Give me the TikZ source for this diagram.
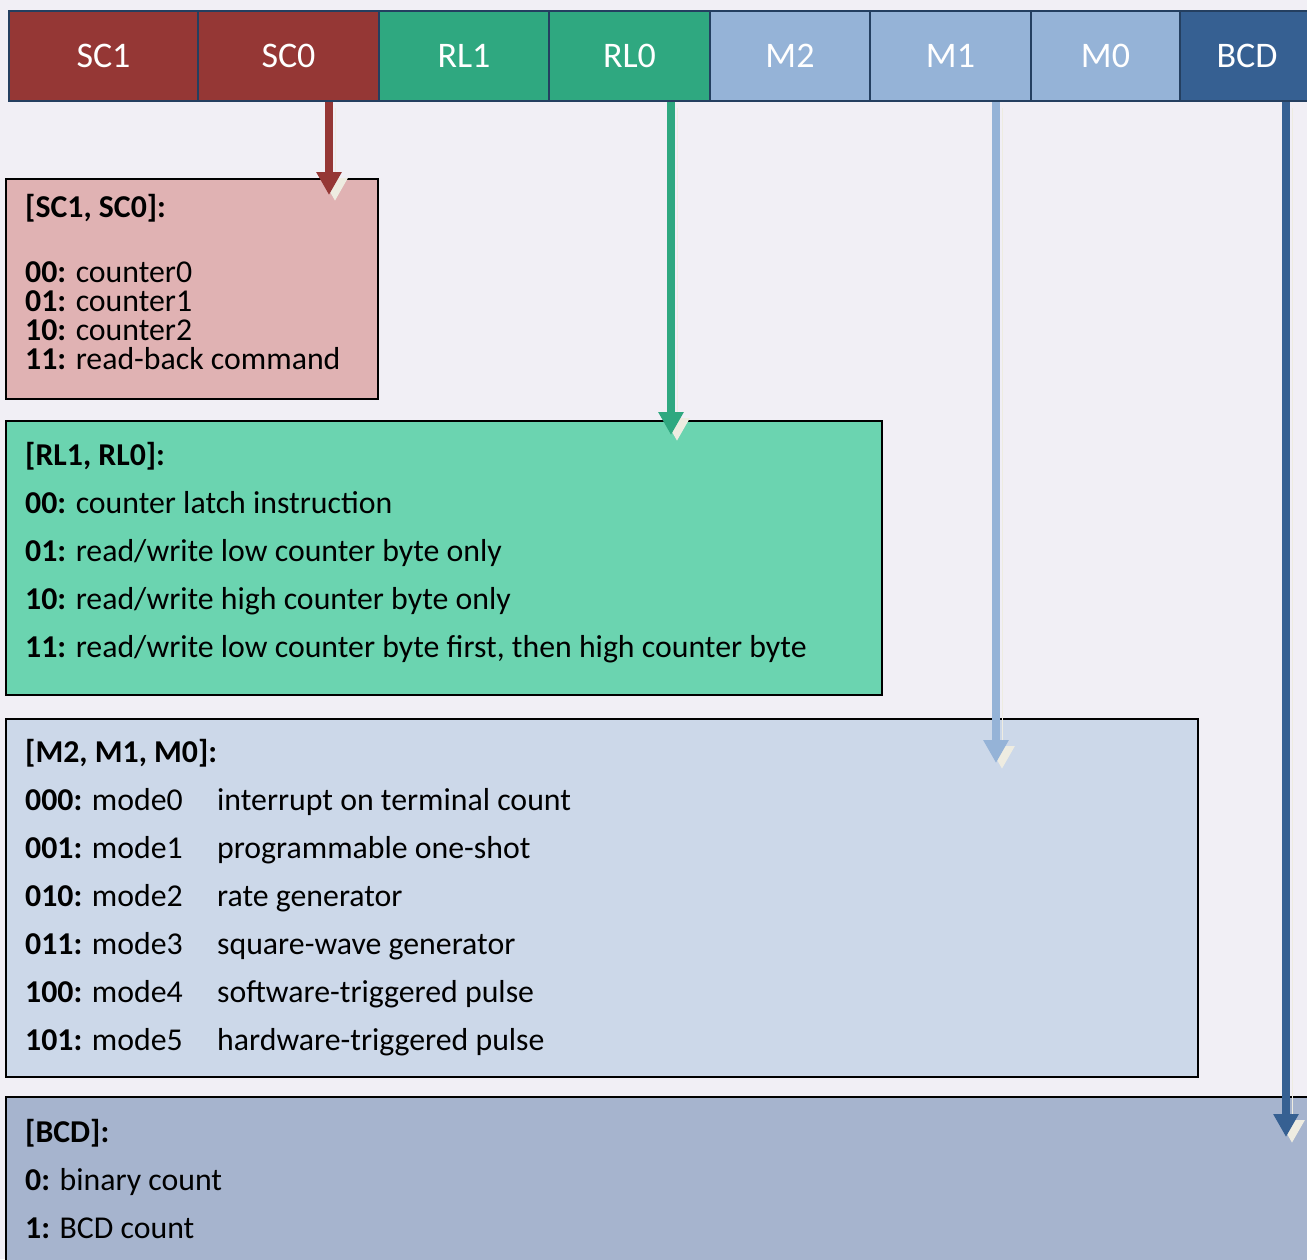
\documentclass[tikz,border=0pt]{standalone}
\usepackage{fontspec}
\setmainfont{Carlito}
\usetikzlibrary{arrows.meta,positioning,calc}

\definecolor{bgcol}{HTML}{F1EFF5}
\definecolor{hdrline}{HTML}{243F60}
\definecolor{scred}{HTML}{953735}
\definecolor{rlgreen}{HTML}{2FA880}
\definecolor{mblue}{HTML}{95B3D7}
\definecolor{bcdblue}{HTML}{366092}
\definecolor{scpink}{HTML}{E0B2B3}
\definecolor{rlmint}{HTML}{6BD4B0}
\definecolor{mpale}{HTML}{CCD8E9}
\definecolor{bcdgrey}{HTML}{A6B4CE}
\definecolor{shadecol}{HTML}{EEECE1}

\begin{document}
\begin{tikzpicture}[x=1pt,y=-1pt,>={Triangle[width=24pt,length=23pt]}]
  \tikzstyle{cell}=[draw=hdrline,line width=2pt,minimum height=90pt,inner sep=0pt,text=white,font=\fontsize{36}{40}\selectfont]
  \tikzstyle{infobox}=[draw=black,line width=1.5pt,anchor=north west,inner sep=0pt]
  \tikzstyle{info}=[anchor=base west,align=left,inner sep=0pt,font=\fontsize{31.8}{48}\selectfont]
  \tikzstyle{bitarrow}=[line width=8pt,->,preaction={draw=shadecol,transform canvas={shift={(6pt,-6pt)}}}]

  \useasboundingbox (0,0) rectangle (1307,1259);
  \clip (0,0) rectangle (1307,1259);
  \fill[bgcol] (0,0) rectangle (1307,1259);

  % description boxes
  \node[infobox,fill=scpink,minimum width=372pt,minimum height=220pt] (scbox) at (5,178) {};
  \node[infobox,fill=rlmint,minimum width=876pt,minimum height=274pt] (rlbox) at (5,420) {};
  \node[infobox,fill=mpale,minimum width=1192pt,minimum height=358pt] (mbox) at (5,718) {};
  \node[infobox,fill=bcdgrey,minimum width=1320pt,minimum height=200pt] (bcdbox) at (5,1096) {};

  % texts, placed by the baseline of their last line
  \node[info,font=\fontsize{31.8}{29}\selectfont] (sctext) at ([shift={(20,191)}]scbox.north west)
    {\textbf{[SC1, SC0]:}\\[36pt]
     \textbf{00:} counter0\\
     \textbf{01:} counter1\\
     \textbf{10:} counter2\\
     \textbf{11:} read-back command};
  \node[info] (rltext) at ([shift={(20,237)}]rlbox.north west)
    {\textbf{[RL1, RL0]:}\\
     \textbf{00:} counter latch instruction\\
     \textbf{01:} read/write low counter byte only\\
     \textbf{10:} read/write high counter byte only\\
     \textbf{11:} read/write low counter byte first, then high counter byte};
  \node[info] (mtext) at ([shift={(20,332)}]mbox.north west)
    {\textbf{[M2, M1, M0]:}\\
     \makebox[192pt][l]{\textbf{000:} mode0}interrupt on terminal count\\
     \makebox[192pt][l]{\textbf{001:} mode1}programmable one-shot\\
     \makebox[192pt][l]{\textbf{010:} mode2}rate generator\\
     \makebox[192pt][l]{\textbf{011:} mode3}square-wave generator\\
     \makebox[192pt][l]{\textbf{100:} mode4}software-triggered pulse\\
     \makebox[192pt][l]{\textbf{101:} mode5}hardware-triggered pulse};
  \node[info] (bcdtext) at ([shift={(20,142)}]bcdbox.north west)
    {\textbf{[BCD]:}\\
     \textbf{0:} binary count\\
     \textbf{1:} BCD count};

  % control word bits
  \node[cell,fill=scred,minimum width=189pt] (sc1) at (103.5,56) {SC1};
  \node[cell,fill=scred,minimum width=181pt] (sc0) at (288.5,56) {SC0};
  \node[cell,fill=rlgreen,minimum width=170pt] (rl1) at (464,56) {RL1};
  \node[cell,fill=rlgreen,minimum width=161pt] (rl0) at (629.5,56) {RL0};
  \node[cell,fill=mblue,minimum width=160pt] (m2) at (790,56) {M2};
  \node[cell,fill=mblue,minimum width=161pt] (m1) at (950.5,56) {M1};
  \node[cell,fill=mblue,minimum width=149pt] (m0) at (1105.5,56) {M0};
  \node[cell,fill=bcdblue,minimum width=134pt] (bcd) at (1247,56) {BCD};

  % arrows into the boxes
  \coordinate (scend) at (329,195);
  \coordinate (rlend) at (671,435);
  \coordinate (mend) at (996,763);
  \coordinate (bcdend) at (1286,1137);
  \draw[bitarrow,draw=scred] (sc0.south -| scend) -- (scend);
  \draw[bitarrow,draw=rlgreen] (rl0.south -| rlend) -- (rlend);
  \draw[bitarrow,draw=mblue] (m1.south -| mend) -- (mend);
  \draw[bitarrow,draw=bcdblue] (bcd.south -| bcdend) -- (bcdend);
\end{tikzpicture}
\end{document}
